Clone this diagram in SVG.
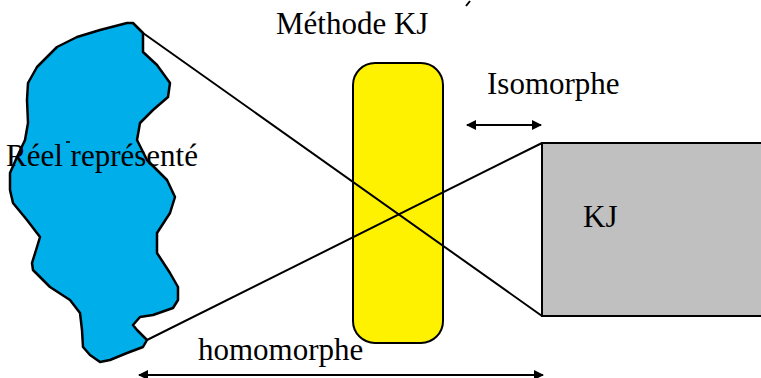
<svg xmlns="http://www.w3.org/2000/svg" width="761" height="378" viewBox="0 0 761 378">
<style>
text{font-family:'Liberation Serif','DejaVu Serif',serif;font-size:31px;fill:#000}
.ln{stroke:#000;stroke-width:2;fill:none}
</style>
<defs>
<marker id="ah" viewBox="0 0 10 10" refX="9" refY="5" markerWidth="5.5" markerHeight="5" orient="auto-start-reverse" markerUnits="strokeWidth">
<path d="M0,0 L10,5 L0,10 Z" fill="#000"/>
</marker>
</defs>
<rect width="761" height="378" fill="#fff"/>
<g id="reel">
<path d="M127,23 L133,23 L143,33 L143,52 L157,65 L170,83 L168,97 L153,110 L140,123 L137,140 L147,160 L167,180 L175,197 L170,213 L157,233 L157,253 L170,273 L178,287 L178,300 L173,308 L153,315 L140,317 L133,325 L137,330 L147,340 L143,347 L127,353 L110,360 L100,362 L90,355 L83,347 L82,330 L80,313 L70,300 L50,287 L33,270 L32,263 L37,247 L40,237 L27,220 L13,203 L10,190 L10,173 L17,157 L25,140 L28,123 L27,100 L28,83 L37,67 L57,47 L77,37 L100,30 Z" fill="#00aeea" stroke="#000" stroke-width="2.5" stroke-linejoin="round"/>
<line x1="66" y1="142" x2="70" y2="142" stroke="#000" stroke-width="1.5"/>
<text x="6" y="166" font-family="Liberation Serif, DejaVu Serif, serif">Réel représenté</text>
</g>
<g id="methode">
<rect x="353" y="63" width="90" height="280" rx="22" ry="22" fill="#fff200" stroke="#000" stroke-width="2"/>
<text x="276" y="34" font-family="Liberation Serif, DejaVu Serif, serif">Méthode KJ</text>
</g>
<g id="kj">
<rect x="542" y="143" width="225" height="173" fill="#c0c0c0" stroke="#000" stroke-width="2"/>
<text x="583" y="227" font-family="Liberation Serif, DejaVu Serif, serif">KJ</text>
</g>
<g id="connectors">
<line class="ln" x1="143" y1="33" x2="542" y2="316"/>
<line class="ln" x1="147" y1="340" x2="542" y2="143"/>
<line class="ln" x1="467" y1="125" x2="541" y2="125" marker-start="url(#ah)" marker-end="url(#ah)"/>
<line class="ln" x1="139" y1="375" x2="543" y2="375" marker-start="url(#ah)" marker-end="url(#ah)"/>
<line class="ln" x1="466" y1="6" x2="470" y2="1"/>
</g>
<text x="487" y="94" font-family="Liberation Serif, DejaVu Serif, serif">Isomorphe</text>
<text x="198" y="360" font-family="Liberation Serif, DejaVu Serif, serif">homomorphe</text>
</svg>
